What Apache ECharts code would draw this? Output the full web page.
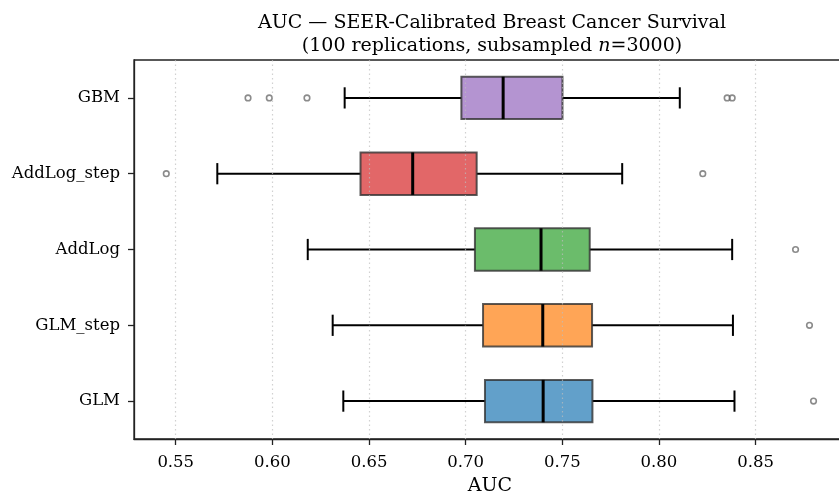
<!DOCTYPE html>
<html><head><meta charset="utf-8">
<script src="https://cdn.jsdelivr.net/npm/echarts@6/dist/echarts.min.js"></script>
<style>html,body{margin:0;padding:0;background:#fff}#c{width:839px;height:497px}</style>
</head><body><div id="c"></div>
<script>
const categories = ['GBM', 'AddLog_step', 'AddLog', 'GLM_step', 'GLM'];
const whiskerLow = [0.6374, 0.5715, 0.6183, 0.6312, 0.6367];
const q1 =         [0.6978, 0.6456, 0.7048, 0.7090, 0.7100];
const median =     [0.7194, 0.6726, 0.7390, 0.7399, 0.7401];
const q3 =         [0.7501, 0.7057, 0.7642, 0.7654, 0.7656];
const whiskerHigh =[0.8108, 0.7810, 0.8379, 0.8383, 0.8391];
const outliers = [
  [0.5874, 'GBM'], [0.5984, 'GBM'], [0.6179, 'GBM'], [0.8353, 'GBM'], [0.8379, 'GBM'],
  [0.5451, 'AddLog_step'], [0.8227, 'AddLog_step'],
  [0.8707, 'AddLog'],
  [0.8779, 'GLM_step'],
  [0.8800, 'GLM']
];
const boxColors = ['#9467bd', '#d62728', '#2ca02c', '#ff7f0e', '#1f77b4'];
const xTicks = [0.55, 0.60, 0.65, 0.70, 0.75, 0.80, 0.85];
const xMin = 0.5284, xMax = 0.8968;

const FONT = 'DejaVu Serif';
const boxData = categories.map((c, i) => [whiskerLow[i], q1[i], median[i], q3[i], whiskerHigh[i], i]);
const outlierData = outliers.map(o => [o[0], categories.indexOf(o[1])]);

function hexA(h, a) {
  const r = parseInt(h.slice(1,3),16), g = parseInt(h.slice(3,5),16), b = parseInt(h.slice(5,7),16);
  return `rgba(${r},${g},${b},${a})`;
}

const chart = echarts.init(document.getElementById('c'), null, {renderer: 'canvas'});
chart.setOption({
  animation: false,
  backgroundColor: '#fff',
  title: {
    text: 'AUC — SEER-Calibrated Breast Cancer Survival\n(100 replications, subsampled {i|n}=3000)',
    left: 487, top: 7, textAlign: 'center',
    textStyle: {
      fontFamily: FONT, fontSize: 19, fontWeight: 'normal', color: '#000', lineHeight: 23,
      rich: { i: { fontFamily: FONT, fontSize: 19, fontStyle: 'italic', color: '#000', lineHeight: 23 } }
    }
  },
  grid: { left: 134, width: 712, top: 60, height: 379, outerBoundsMode: 'none', containLabel: false,
          show: true, borderColor: '#222', borderWidth: 1.3, backgroundColor: 'transparent' },
  xAxis: {
    type: 'value', min: xMin, max: xMax,
    name: 'AUC', nameLocation: 'middle', nameGap: 38,
    nameTextStyle: { fontFamily: FONT, fontSize: 19, color: '#000' },
    axisLine: { show: true, onZero: false, lineStyle: { color: '#222', width: 1.3 } },
    axisTick: { show: true, length: 6, customValues: xTicks, lineStyle: { color: '#222', width: 1.3 } },
    axisLabel: { customValues: xTicks, fontFamily: FONT, fontSize: 16.5, color: '#000', margin: 15,
                 formatter: v => v.toFixed(2) },
    splitLine: { show: false }
  },
  yAxis: {
    type: 'category', data: categories, inverse: true,
    axisLine: { show: true, lineStyle: { color: '#222', width: 1.3 } },
    axisTick: { show: true, length: 6, alignWithLabel: true, lineStyle: { color: '#222', width: 1.3 } },
    axisLabel: { fontFamily: FONT, fontSize: 16.5, color: '#000', margin: 14 },
    splitLine: { show: false }
  },
  series: [
    {
      type: 'custom',
      data: boxData,
      encode: { x: [0, 1, 2, 3, 4], y: 5 },
      z: 3,
      renderItem: function (params, api) {
        const i = api.value(5);
        const band = api.size([0, 1])[1];
        const h = band * 0.56;
        const capH = h / 2;
        const pLo = api.coord([api.value(0), i]);
        const pQ1 = api.coord([api.value(1), i]);
        const pMed = api.coord([api.value(2), i]);
        const pQ3 = api.coord([api.value(3), i]);
        const pHi = api.coord([api.value(4), i]);
        const y = pMed[1];
        const lineStyle = { stroke: '#000', lineWidth: 2 };
        return {
          type: 'group',
          children: [
            { type: 'line', shape: { x1: pLo[0], y1: y, x2: pQ1[0], y2: y }, style: lineStyle },
            { type: 'line', shape: { x1: pQ3[0], y1: y, x2: pHi[0], y2: y }, style: lineStyle },
            { type: 'line', shape: { x1: pLo[0], y1: y - capH / 2, x2: pLo[0], y2: y + capH / 2 }, style: lineStyle },
            { type: 'line', shape: { x1: pHi[0], y1: y - capH / 2, x2: pHi[0], y2: y + capH / 2 }, style: lineStyle },
            { type: 'rect', shape: { x: pQ1[0], y: y - h / 2, width: pQ3[0] - pQ1[0], height: h },
              style: { fill: hexA(boxColors[i], 0.7), stroke: 'rgba(50,50,50,0.8)', lineWidth: 2 } },
            { type: 'line', shape: { x1: pMed[0], y1: y - h / 2, x2: pMed[0], y2: y + h / 2 },
              style: { stroke: '#000', lineWidth: 3 } }
          ]
        };
      }
    },
    {
      type: 'custom',
      data: outlierData,
      encode: { x: 0, y: 1 },
      z: 4,
      renderItem: function (params, api) {
        const p = api.coord([api.value(0), api.value(1)]);
        return { type: 'circle', shape: { cx: p[0], cy: p[1], r: 2.8 },
                 style: { fill: 'none', stroke: 'rgba(110,110,110,0.8)', lineWidth: 1.6 } };
      }
    },
    {
      type: 'line',
      data: [],
      markLine: {
        silent: true, symbol: 'none', label: { show: false },
        lineStyle: { color: 'rgba(190,190,190,0.7)', type: [1.5, 3], width: 1.2 },
        data: xTicks.map(v => ({ xAxis: v }))
      },
      z: 1
    }
  ]
});
</script>
</body></html>
